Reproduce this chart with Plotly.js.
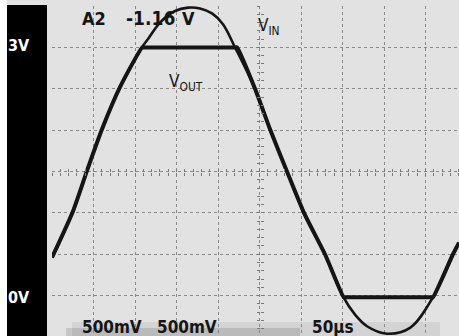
<!DOCTYPE html>
<html>
<head>
<meta charset="utf-8">
<script src="https://cdn.plot.ly/plotly-3.0.1.min.js"></script>
<style>
html,body{margin:0;padding:0;width:459px;height:336px;overflow:hidden;background:#fff;}
#chart{width:480px;height:345px;}
</style>
</head>
<body>
<div id="chart"></div>
<script>
// Time in microseconds (50 µs/div), voltage in volts (500 mV/div)
const vinT = [0, 25.3, 42.2, 60.2, 81.9, 108.4, 115.7, 130.1, 148.2, 163.9, 178.3, 192.8, 206.0, 220.5, 244.6, 262.7, 283.1, 303.6, 328.9, 350.6, 365.1, 379.5, 403.6, 431.3, 459.0, 483.1, 490.4];
const vinV = [0.46, 1.02, 1.51, 2.01, 2.52, 3.00, 3.10, 3.30, 3.44, 3.48, 3.47, 3.41, 3.28, 3.00, 2.50, 2.01, 1.50, 1.00, 0.50, -0.01, -0.23, -0.37, -0.46, -0.39, -0.02, 0.50, 0.64];
const voutT = [0, 25.3, 42.2, 60.2, 81.9, 108.8, 110.5, 221.5, 223.0, 244.6, 262.7, 283.1, 303.6, 328.9, 351.5, 353.0, 457.5, 459.0, 483.1, 490.4];
const voutV = [0.46, 1.02, 1.51, 2.01, 2.52, 3.00, 3.00, 3.00, 3.00, 2.50, 2.01, 1.50, 1.00, 0.50, -0.02, -0.02, -0.02, -0.02, 0.50, 0.64];
const scaleLabels = ["500mV", "500mV", "50µs"];
const levelLabels = ["3V", "0V"];
const triggerLabels = ["A2", "-1.16", "V"];

// pixel helpers for layout placement (plot area: 52..467 px, 6..337 px)
const L = 52, W = 415, T = 6, H = 331;
const px = x => (x - L) / W;
const py = y => 1 - (y - T) / H;

const FONT = "Liberation Sans Narrow, DejaVu Sans Condensed, Arial Narrow, sans-serif";
const ink = "#151515";

const traces = [
  {x: vinT, y: vinV, mode: "lines", line: {color: ink, width: 2.6, shape: "spline", smoothing: 1}, hoverinfo: "skip", showlegend: false},
  {x: voutT, y: voutV, mode: "lines", line: {color: ink, width: 4, shape: "spline", smoothing: 0.6}, hoverinfo: "skip", showlegend: false},
  {x: [null], y: [null], xaxis: "x2", yaxis: "y", showlegend: false, hoverinfo: "skip"},
  {x: [null], y: [null], xaxis: "x3", yaxis: "y", showlegend: false, hoverinfo: "skip"},
  {x: [null], y: [null], xaxis: "x", yaxis: "y2", showlegend: false, hoverinfo: "skip"},
  {x: [null], y: [null], xaxis: "x", yaxis: "y3", showlegend: false, hoverinfo: "skip"}
];

const gridAxis = {showgrid: true, griddash: "dot", gridcolor: "#8a8a8a", gridwidth: 1, showticklabels: false, ticks: "", zeroline: false, showline: false, fixedrange: true};
const tickAxisX = (ticks) => ({overlaying: "x", anchor: "free", position: 0.5, range: [0, 500], dtick: 10, tick0: 0, ticks: ticks, ticklen: 3, tickcolor: "#7a7a7a", tickwidth: 1, showgrid: false, showticklabels: false, zeroline: false, showline: false, fixedrange: true});
const tickAxisY = (ticks) => ({overlaying: "y", anchor: "free", position: 0.5, range: [-0.5, 3.5], dtick: 0.1, tick0: 0, ticks: ticks, ticklen: 3, tickcolor: "#7a7a7a", tickwidth: 1, showgrid: false, showticklabels: false, zeroline: false, showline: false, fixedrange: true});

const ann = (text, x, y, opts) => Object.assign({text: text, xref: "paper", yref: "paper", x: px(x), y: py(y), showarrow: false, xanchor: "center", yanchor: "middle", font: {family: FONT, size: 18, color: ink}}, opts || {});

const layout = {
  width: 480, height: 345,
  margin: {l: L, r: 480 - L - W, t: T, b: 345 - T - H, pad: 0},
  paper_bgcolor: "#e2e2e2",
  plot_bgcolor: "#e2e2e2",
  showlegend: false,
  xaxis: Object.assign({range: [0, 500], dtick: 50, tick0: 0}, gridAxis),
  yaxis: Object.assign({range: [-0.5, 3.5], dtick: 0.5, tick0: 0}, gridAxis),
  xaxis2: tickAxisX("inside"),
  xaxis3: tickAxisX("outside"),
  yaxis2: tickAxisY("inside"),
  yaxis3: tickAxisY("outside"),
  shapes: [
    {type: "rect", xref: "paper", yref: "paper", x0: px(-5), x1: px(480), y0: py(0), y1: py(-10), fillcolor: "#ffffff", line: {width: 0}, layer: "above"},
    {type: "rect", xref: "paper", yref: "paper", x0: px(-5), x1: px(7), y0: py(360), y1: py(-10), fillcolor: "#ffffff", line: {width: 0}, layer: "above"},
    {type: "rect", xref: "paper", yref: "paper", x0: px(7), x1: px(47), y0: py(360), y1: py(5), fillcolor: "#000000", line: {width: 0}, layer: "above"},
    {type: "rect", xref: "paper", yref: "paper", x0: px(72), x1: px(440), y0: py(340), y1: py(322), fillcolor: "rgba(110,110,110,0.12)", line: {width: 0}, layer: "below"},
    {type: "rect", xref: "paper", yref: "paper", x0: px(66), x1: px(300), y0: py(340), y1: py(328), fillcolor: "rgba(90,90,90,0.2)", line: {width: 0}, layer: "below"}
  ],
  annotations: [
    ann("<b>" + levelLabels[0] + "</b>", 19, 45, {font: {family: FONT, size: 16, color: "#ffffff"}}),
    ann("<b>" + levelLabels[1] + "</b>", 19, 297, {font: {family: FONT, size: 16, color: "#ffffff"}}),
    ann("<b>" + triggerLabels[0] + "</b>", 94, 18),
    ann("<b>" + triggerLabels[1] + "</b>", 150, 18, {font: {family: FONT, size: 19, color: ink}}),
    ann("<b>" + triggerLabels[2] + "</b>", 188, 18),
    ann("V<sub>IN</sub>", 256, 26, {xanchor: "left", font: {family: FONT, size: 17, color: ink}}),
    ann("V<sub>OUT</sub>", 167, 83, {xanchor: "left", font: {family: FONT, size: 17, color: ink}}),
    ann("<b>" + scaleLabels[0] + "</b>", 112, 327, {font: {family: FONT, size: 17, color: ink}}),
    ann("<b>" + scaleLabels[1] + "</b>", 187, 327, {font: {family: FONT, size: 17, color: ink}}),
    ann("<b>" + scaleLabels[2] + "</b>", 333, 327, {font: {family: FONT, size: 17, color: ink}})
  ]
};

Plotly.newPlot("chart", traces, layout, {staticPlot: true, displayModeBar: false});
</script>
</body>
</html>
